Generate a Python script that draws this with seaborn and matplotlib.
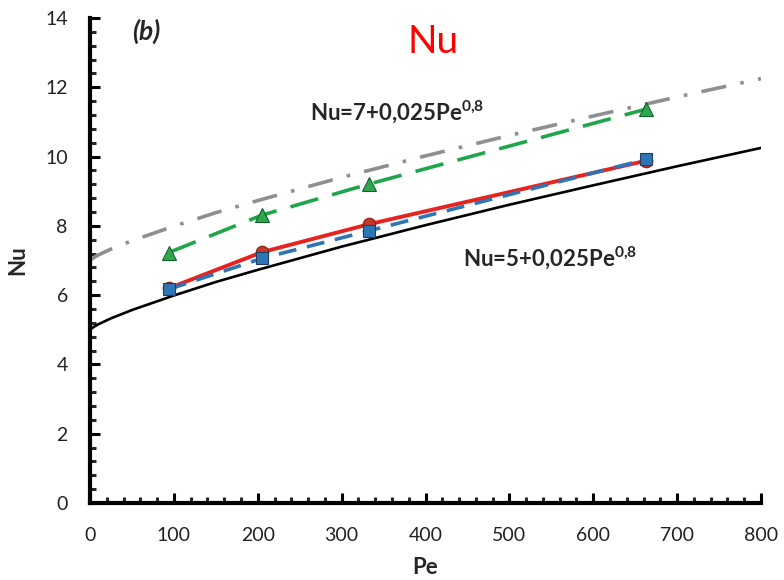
import matplotlib
matplotlib.use("Agg")
import matplotlib.pyplot as plt
from matplotlib.ticker import MultipleLocator
import seaborn as sns
import pandas as pd

# ---- data ----
pe_curve = [0, 2, 5, 10, 25, 50, 100, 150, 200, 300, 400, 500, 600, 700, 800]
nu_low_curve = [5.0, 5.04, 5.09, 5.16, 5.33, 5.57, 5.99, 6.38, 6.73, 7.40, 8.02, 8.61, 9.17, 9.72, 10.25]
nu_high_curve = [7.0, 7.04, 7.09, 7.16, 7.33, 7.57, 7.99, 8.38, 8.73, 9.40, 10.02, 10.61, 11.17, 11.72, 12.25]

pe_pts = [94, 205, 333, 663]
nu_red = [6.20, 7.24, 8.05, 9.88]
nu_blue = [6.17, 7.06, 7.86, 9.92]
nu_green = [7.23, 8.31, 9.21, 11.37]

x_ticks = [0, 100, 200, 300, 400, 500, 600, 700, 800]
y_ticks = [0, 2, 4, 6, 8, 10, 12, 14]

label_low = "Nu=5+0,025Pe"
label_high = "Nu=7+0,025Pe"

sns.set_theme(style="ticks")
plt.rcParams["font.family"] = ["Lato", "DejaVu Sans"]
plt.rcParams["mathtext.fontset"] = "custom"
plt.rcParams["mathtext.rm"] = "Lato"
plt.rcParams["mathtext.bf"] = "Lato:bold"

fig = plt.figure(figsize=(7.84, 5.80), dpi=100)
ax = fig.add_axes([90 / 784, 77 / 580, (761 - 90) / 784, (503 - 18) / 580])

df_curve = pd.DataFrame({"Pe": pe_curve, "low": nu_low_curve, "high": nu_high_curve})
df_pts = pd.DataFrame({"Pe": pe_pts, "red": nu_red, "blue": nu_blue, "green": nu_green})

sns.lineplot(data=df_curve, x="Pe", y="low", ax=ax, color="black", linewidth=1.9,
             estimator=None, sort=False)
sns.lineplot(data=df_curve, x="Pe", y="high", ax=ax, color="#8f8f8f", linewidth=2.6,
             linestyle=(0, (7, 4, 1, 4)), estimator=None, sort=False)
sns.lineplot(data=df_pts, x="Pe", y="red", ax=ax, color="#e8221e", linewidth=2.8,
             marker="o", markersize=9, markerfacecolor="#c0392b", markeredgecolor="#8b1a10",
             markeredgewidth=0.8, estimator=None, sort=False)
sns.lineplot(data=df_pts, x="Pe", y="blue", ax=ax, color="#2e75b6", linewidth=2.6,
             linestyle=(0, (5, 3)), marker="s", markersize=9, markerfacecolor="#2e75b6",
             markeredgecolor="#1f3e66", markeredgewidth=0.8, estimator=None, sort=False)
sns.lineplot(data=df_pts, x="Pe", y="green", ax=ax, color="#1fa64b", linewidth=2.6,
             linestyle=(0, (8, 4)), marker="^", markersize=10, markerfacecolor="#2ea84e",
             markeredgecolor="#12602a", markeredgewidth=0.8, estimator=None, sort=False)

ax.set_xlim(0, 800)
ax.set_ylim(0, 14)
ax.set_xticks(x_ticks)
ax.set_yticks(y_ticks)
ax.xaxis.set_minor_locator(MultipleLocator(20))
ax.yaxis.set_minor_locator(MultipleLocator(0.4))
ax.tick_params(axis="both", which="major", direction="in", length=7, width=2.2,
               labelsize=14, colors="black", labelcolor="#222222")
ax.tick_params(axis="x", which="major", pad=17)
ax.tick_params(axis="y", which="major", pad=16)
ax.tick_params(axis="both", which="minor", direction="in", length=4, width=2.2)
for s in ["top", "right"]:
    ax.spines[s].set_visible(False)
for s in ["left", "bottom"]:
    ax.spines[s].set_linewidth(3)
    ax.spines[s].set_color("black")

ax.set_xlabel("Pe", fontsize=16, fontweight="bold", labelpad=10)
ax.set_ylabel("Nu", fontsize=16, fontweight="bold", labelpad=12)

fig.text(146 / 784, 1 - 31 / 580, "(b)", fontsize=19, fontweight="bold", style="italic",
         ha="center", va="center")
fig.text(433 / 784, 1 - 42 / 580, "Nu", fontsize=28, color="#ff0000",
         ha="center", va="center")
fig.text(310 / 784, 1 - 112 / 580, label_high + r"$^{\mathbf{0{,}8}}$", fontsize=16,
         fontweight="bold", ha="left", va="center")
fig.text(463 / 784, 1 - 258 / 580, label_low + r"$^{\mathbf{0{,}8}}$", fontsize=16,
         fontweight="bold", ha="left", va="center")

fig.savefig("out.png", dpi=100)
